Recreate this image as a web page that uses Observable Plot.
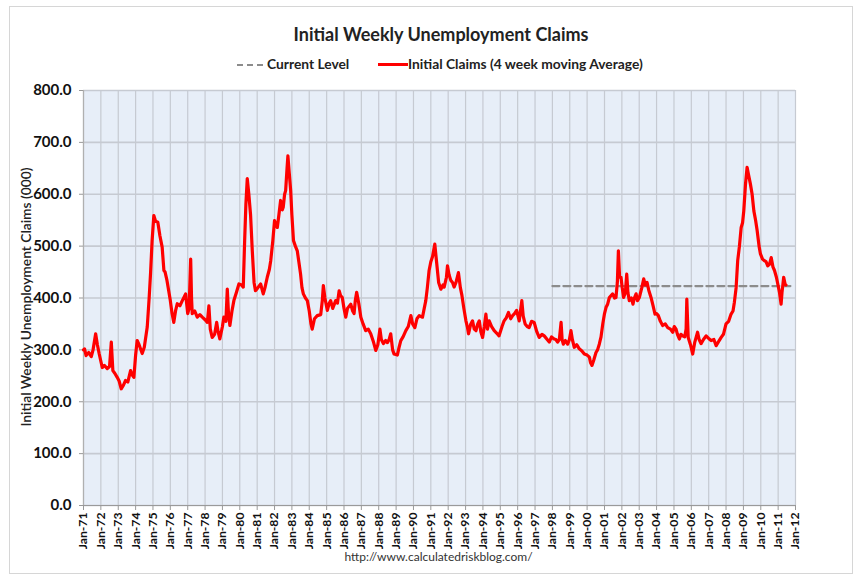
<!DOCTYPE html>
<html><head><meta charset="utf-8">
<script src="https://cdn.jsdelivr.net/npm/d3@7"></script>
<script src="https://cdn.jsdelivr.net/npm/@observablehq/plot@0.6"></script>
<style>
body{margin:0;background:#fff;font-family:Lato,"Liberation Sans",sans-serif;}
#wrap{position:relative;width:863px;height:578px;overflow:hidden;}
#border{position:absolute;left:9px;top:6px;width:842px;height:566px;border:1px solid #d6d6d6;}
#title{position:absolute;left:0;top:23px;width:882px;text-align:center;font-weight:bold;font-size:18px;color:#222;}
.leg{position:absolute;top:55px;font-weight:bold;font-size:13.8px;color:#222;white-space:nowrap;}
.sw{position:absolute;top:64px;height:0;}
#ytitle{position:absolute;left:25px;top:297px;transform:translate(-50%,-50%) rotate(-90deg);font-size:13.8px;font-weight:600;color:#222;white-space:nowrap;}
#chart{position:absolute;left:0;top:80px;}
#caption{position:absolute;left:0;top:549px;width:877px;text-align:center;font-size:12px;color:#333;}
</style></head>
<body>
<div id="wrap">
<div id="border"></div>
<div id="title">Initial Weekly Unemployment Claims</div>
<div class="sw" style="left:237px;width:26px;border-top:2px dashed #8c8c8c;"></div>
<div class="leg" style="left:267px;">Current Level</div>
<div class="sw" style="left:378px;width:30px;border-top:3px solid #ff0000;top:63px;"></div>
<div class="leg" style="left:408px;">Initial Claims (4 week moving Average)</div>
<div id="ytitle">Initial Weekly Unemployment Claims (000)</div>
<div id="chart"></div>
<div id="caption">http://www.calculatedriskblog.com/</div>
</div>
<script>
// Decimal-year positions and values (thousands)
const claimYears = [
1971.0,1971.06,1971.15,1971.3,1971.45,1971.55,1971.7,1971.8,1971.9,1972.08,1972.2,1972.37,1972.5,1972.6,1972.69,1972.8,1972.94,1973.05,1973.17,1973.3,1973.42,1973.55,1973.71,1973.8,1973.9,1974.0,1974.09,1974.2,1974.38,1974.5,1974.67,1974.78,1974.86,1974.95,1975.05,1975.15,1975.28,1975.4,1975.53,1975.63,1975.7,1975.8,1976.0,1976.1,1976.2,1976.3,1976.4,1976.55,1976.69,1976.88,1977.0,1977.08,1977.17,1977.22,1977.26,1977.4,1977.55,1977.7,1977.84,1978.0,1978.13,1978.22,1978.3,1978.41,1978.55,1978.67,1978.75,1978.85,1979.0,1979.08,1979.2,1979.28,1979.35,1979.43,1979.55,1979.66,1979.8,1979.95,1980.1,1980.2,1980.28,1980.35,1980.43,1980.52,1980.62,1980.72,1980.82,1980.9,1981.0,1981.2,1981.35,1981.45,1981.58,1981.7,1981.78,1981.9,1982.0,1982.1,1982.16,1982.25,1982.35,1982.45,1982.5,1982.58,1982.64,1982.72,1982.77,1982.85,1982.93,1983.0,1983.09,1983.2,1983.31,1983.4,1983.5,1983.58,1983.66,1983.78,1983.89,1984.0,1984.1,1984.17,1984.3,1984.46,1984.66,1984.75,1984.81,1984.9,1985.04,1985.15,1985.23,1985.35,1985.52,1985.62,1985.72,1985.8,1985.9,1986.0,1986.1,1986.2,1986.39,1986.5,1986.58,1986.65,1986.73,1986.85,1986.97,1987.1,1987.25,1987.4,1987.54,1987.7,1987.83,1987.95,1988.07,1988.15,1988.27,1988.4,1988.5,1988.6,1988.69,1988.8,1988.88,1989.07,1989.17,1989.27,1989.4,1989.56,1989.7,1989.85,1989.95,1990.08,1990.2,1990.33,1990.52,1990.62,1990.71,1990.8,1990.9,1991.0,1991.1,1991.23,1991.3,1991.45,1991.58,1991.7,1991.77,1991.9,1991.96,1992.05,1992.15,1992.25,1992.34,1992.45,1992.59,1992.7,1992.79,1992.9,1993.02,1993.1,1993.17,1993.3,1993.4,1993.5,1993.6,1993.7,1993.79,1993.88,1993.98,1994.08,1994.17,1994.26,1994.36,1994.5,1994.65,1994.8,1994.93,1995.1,1995.22,1995.35,1995.47,1995.6,1995.71,1995.82,1995.94,1996.09,1996.24,1996.32,1996.43,1996.55,1996.66,1996.8,1996.95,1997.1,1997.24,1997.4,1997.53,1997.7,1997.82,1997.95,1998.1,1998.2,1998.3,1998.4,1998.5,1998.56,1998.63,1998.75,1998.88,1998.98,1999.07,1999.15,1999.26,1999.4,1999.55,1999.7,1999.84,2000.0,2000.13,2000.2,2000.28,2000.38,2000.51,2000.6,2000.7,2000.8,2000.9,2001.0,2001.09,2001.18,2001.28,2001.47,2001.58,2001.66,2001.74,2001.8,2001.87,2001.95,2002.02,2002.1,2002.2,2002.28,2002.35,2002.43,2002.55,2002.64,2002.72,2002.82,2002.9,2003.01,2003.15,2003.26,2003.35,2003.45,2003.55,2003.68,2003.8,2003.91,2004.0,2004.1,2004.22,2004.35,2004.5,2004.64,2004.8,2004.93,2005.02,2005.12,2005.2,2005.31,2005.4,2005.5,2005.62,2005.7,2005.74,2005.78,2005.82,2005.95,2006.08,2006.2,2006.36,2006.45,2006.56,2006.7,2006.85,2007.0,2007.14,2007.3,2007.43,2007.55,2007.72,2007.85,2008.0,2008.15,2008.29,2008.4,2008.48,2008.58,2008.67,2008.77,2008.87,2008.95,2009.02,2009.12,2009.21,2009.28,2009.4,2009.5,2009.6,2009.7,2009.79,2009.9,2009.98,2010.1,2010.2,2010.3,2010.4,2010.5,2010.6,2010.7,2010.79,2010.9,2010.98,2011.08,2011.17,2011.22,2011.32,2011.4,2011.45
];
const claimValues = [
300,302,289,295,287,300,331,310,293,266,270,264,268,315,260,255,247,240,225,232,241,238,260,252,247,290,318,310,293,305,344,400,447,510,559,548,546,520,498,453,450,435,395,370,353,375,389,385,395,408,370,380,475,400,370,375,363,368,363,358,353,385,340,324,330,353,335,321,345,363,355,417,370,347,375,395,410,427,425,421,511,580,630,600,560,490,430,414,418,427,408,420,440,455,472,510,549,540,536,560,588,570,575,600,607,650,674,640,607,560,511,500,491,470,446,420,408,400,395,375,350,340,360,366,368,395,424,400,376,390,395,380,395,390,414,405,401,380,363,380,388,375,370,395,411,390,363,350,337,340,331,315,299,310,340,320,312,318,314,320,331,300,292,290,305,318,325,337,345,366,350,343,360,366,363,380,395,420,453,470,480,504,480,430,417,425,421,440,462,445,434,430,421,430,449,420,405,380,356,345,331,350,356,340,337,350,356,335,324,345,369,340,356,345,337,332,327,345,356,362,372,360,366,370,376,356,395,365,350,345,343,355,353,335,324,330,327,320,315,325,321,320,315,320,353,320,311,318,311,320,337,320,305,310,302,298,292,290,286,275,270,280,295,300,311,325,350,370,382,388,401,408,400,401,430,491,440,440,420,401,410,446,410,395,400,388,400,408,395,401,420,437,425,430,415,401,385,369,370,366,355,347,350,343,340,334,345,340,330,321,330,327,325,340,398,360,324,310,292,315,334,320,312,320,327,322,318,320,308,315,324,330,350,355,369,375,392,420,472,500,536,545,568,620,652,640,620,600,568,550,530,500,485,475,472,470,462,465,478,460,453,440,427,410,388,410,440,427,425
];
const currentLevel = 423;
const currentStartYear = 1998.0;
const currentEndYear = 2011.9;
const firstYear = 1971, lastYear = 2012;
const yTicks = [0,100,200,300,400,500,600,700,800];

function toDate(y){
  const f = Math.floor(y);
  const a = Date.UTC(f,0,1), b = Date.UTC(f+1,0,1);
  return new Date(a + (y-f)*(b-a));
}
const claims = claimYears.map((y,i)=>({date: toDate(y), value: claimValues[i]}));
const current = [{date: toDate(currentStartYear), value: currentLevel},{date: toDate(currentEndYear), value: currentLevel}];
const xTicks = d3.range(firstYear, lastYear+1).map(y=>toDate(y));

const chart = Plot.plot({
  width: 863, height: 470,
  marginTop: 10, marginBottom: 45, marginLeft: 83, marginRight: 68,
  style: {background: "transparent", fontFamily: "Lato, 'Liberation Sans', sans-serif", fontSize: "11px", fontWeight: "bold", color: "#111", overflow: "visible"},
  x: {type: "utc", domain: [toDate(firstYear), toDate(lastYear)], label: null},
  y: {domain: [0, 800], label: null},
  marks: [
    Plot.frame({fill: "#e7eef8", stroke: null}),
    Plot.gridX(xTicks, {stroke: "#c6cad2", strokeOpacity: 1, strokeWidth: 1.2}),
    Plot.gridY(yTicks, {stroke: "#c6cad2", strokeOpacity: 1, strokeWidth: 1.6}),
    Plot.ruleY([0], {stroke: "#9a9a9a", strokeWidth: 1.2}),
    Plot.ruleX([toDate(firstYear)], {stroke: "#b0b0b0", strokeWidth: 1.2}),
    Plot.axisX({ticks: xTicks, tickFormat: d3.utcFormat("%b-%y"), tickRotate: -90, tickSize: 5, tickPadding: 2, stroke: "#999", fontSize: 12.2, fontWeight: "bold", label: null}),
    Plot.axisY({ticks: yTicks, tickFormat: d => d.toFixed(1), tickSize: 4, tickPadding: 8, stroke: "#999", fontSize: 15, fontWeight: "bold", label: null}),
    Plot.line(current, {x: "date", y: "value", stroke: "#8c8c8c", strokeWidth: 2.2, strokeDasharray: "7,4"}),
    Plot.line(claims, {x: "date", y: "value", stroke: "#ff0000", strokeWidth: 3.2, strokeLinejoin: "round"})
  ]
});
document.getElementById("chart").appendChild(chart);
</script>
</body></html>
